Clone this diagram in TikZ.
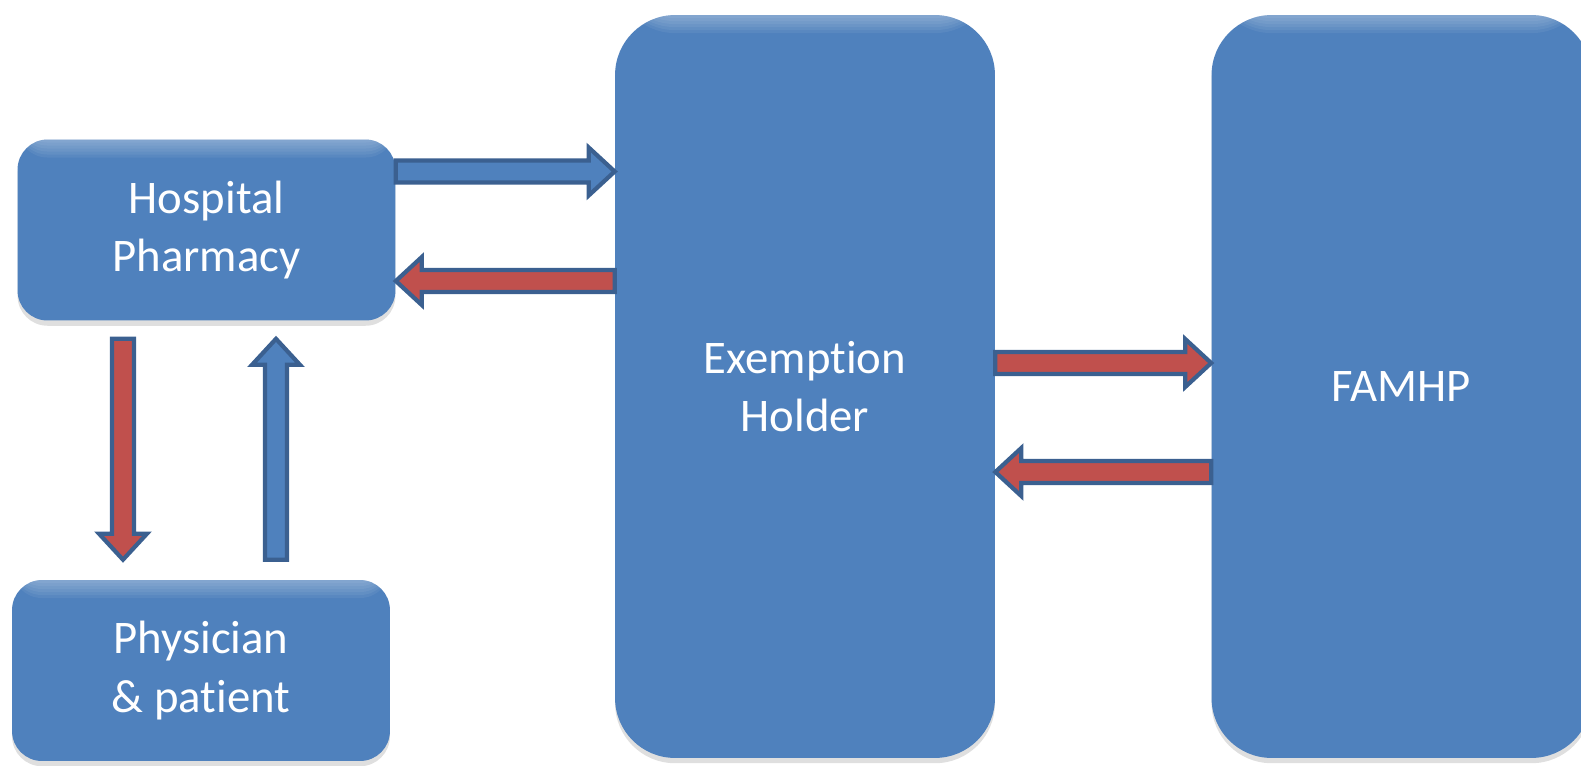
\documentclass[tikz,border=0pt]{standalone}
\usepackage{fontspec}
\setmainfont{Carlito}[Ligatures=NoCommon]
\usetikzlibrary{calc,positioning,shadows}

\definecolor{boxblue}{HTML}{4F81BD}
\definecolor{edgeblue}{HTML}{3B6090}
\definecolor{arrowred}{HTML}{C0504D}

\def\shaftw{0.22cm}
\def\headw{0.48cm}
\def\headlen{0.52cm}

% wide outlined arrow from #1 to #2, filled with #3
\newcommand{\fatarrow}[3]{%
  \coordinate (hb) at ($(#2)!\headlen!(#1)$);
  \filldraw[fatline, fill=#3]
    ($(#1)!\shaftw!90:(#2)$) -- ($(hb)!\shaftw!-90:(#1)$) -- ($(hb)!\headw!-90:(#1)$) -- (#2)
    -- ($(hb)!\headw!90:(#1)$) -- ($(hb)!\shaftw!90:(#1)$) -- ($(#1)!\shaftw!-90:(#2)$) -- cycle;
}

\begin{document}
\begin{tikzpicture}[
x=0.02cm, y=-0.02cm,
block/.style={rectangle, rounded corners=0.6cm, fill=boxblue, text=white, align=center,
  font=\fontsize{26.6}{33.3}\selectfont, minimum width=7.56cm, minimum height=3.62cm,
  drop shadow={shadow xshift=0pt, shadow yshift=-3pt, opacity=0.25},
  path picture={\foreach \h in {0.06,0.12,0.18,0.24,0.3,0.36}
    \fill[white, opacity=0.06] (path picture bounding box.north west) rectangle ([yshift=-\h cm]path picture bounding box.north east);}},
bigblock/.style={block, rounded corners=1.2cm, minimum width=7.6cm, minimum height=14.86cm},
fatline/.style={draw=edgeblue, line width=2.4pt, line join=miter}
]
\useasboundingbox (0,0) rectangle (1581,765);

\node[block] (pharmacy) at (206.5,230) {Hospital\\Pharmacy};
\node[block] (physician) at (201,670.5) {Physician\\\& patient};
\node[bigblock] (holder) at (805,386.5) {Exemption\\Holder};
\node[bigblock] (famhp) at (1401.5,386.5) {FAMHP};

\coordinate (a1s) at ($(pharmacy.east)+(0,-58.5)$);
\coordinate (a2e) at ($(pharmacy.east)+(0,51)$);
\coordinate (a3s) at ($(pharmacy.south)+(-83.5,18)$);
\coordinate (a3e) at ($(physician.north -| a3s)+(0,-20)$);
\coordinate (a4s) at ($(physician.north)+(75,-20)$);
\coordinate (a4e) at ($(pharmacy.south -| a4s)+(0,18)$);
\coordinate (a5s) at ($(holder.east)+(0,-23.5)$);
\coordinate (a6e) at ($(holder.east)+(0,85.5)$);

\fatarrow{a1s}{holder.west |- a1s}{boxblue}
\fatarrow{holder.west |- a2e}{a2e}{arrowred}
\fatarrow{a3s}{a3e}{arrowred}
\fatarrow{a4s}{a4e}{boxblue}
\fatarrow{a5s}{famhp.west |- a5s}{arrowred}
\fatarrow{famhp.west |- a6e}{a6e}{arrowred}

\end{tikzpicture}
\end{document}
